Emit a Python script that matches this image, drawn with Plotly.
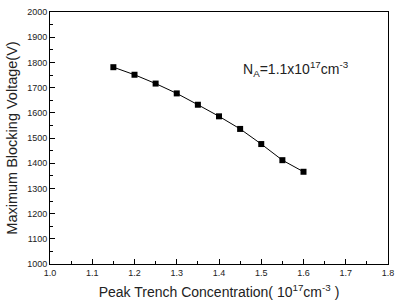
import plotly.graph_objects as go

conc = [1.15, 1.2, 1.25, 1.3, 1.35, 1.4, 1.45, 1.5, 1.55, 1.6]
voltage = [1781, 1751, 1716, 1677, 1632, 1586, 1536, 1476, 1412, 1366]

x_ticks = [1.0, 1.1, 1.2, 1.3, 1.4, 1.5, 1.6, 1.7, 1.8]
y_ticks = list(range(1000, 2001, 100))

fig = go.Figure()
fig.add_trace(go.Scatter(
    x=conc, y=voltage, mode="lines+markers",
    line=dict(color="black", width=1),
    marker=dict(symbol="square", size=6, color="black"),
    showlegend=False,
))

font = dict(family="Liberation Sans, Arial, sans-serif", color="#222")
axis_common = dict(
    showgrid=False, zeroline=False, showline=True, linecolor="black", linewidth=1,
    mirror=True, ticks="inside", ticklen=5, tickcolor="black", tickwidth=1,
    tickfont=dict(size=9, **font),
)
fig.update_xaxes(range=[1.0, 1.8], tickvals=x_ticks,
                 ticktext=[f"{v:.1f}" for v in x_ticks],
                 minor=dict(ticks="inside", ticklen=3, dtick=0.05, tick0=1.0, tickcolor="black"),
                 title=dict(text="Peak Trench Concentration( 10<sup>17</sup>cm<sup>-3</sup> )",
                            font=dict(size=14, **font), standoff=10),
                 **axis_common)
fig.update_yaxes(range=[1000, 2000], tickvals=y_ticks,
                 minor=dict(ticks="inside", ticklen=3, dtick=50, tick0=1000, tickcolor="black"),
                 title=dict(text="Maximum Blocking Voltage(V)", font=dict(size=14.5, **font), standoff=6),
                 **axis_common)

fig.add_annotation(x=1.453, y=1775, xref="x", yref="y",
                   text="N<sub>A</sub>=1.1x10<sup>17</sup>cm<sup>-3</sup>",
                   showarrow=False, xanchor="left", yanchor="middle",
                   font=dict(size=14, **font))

fig.update_layout(width=401, height=305, margin=dict(l=50, r=7, t=9, b=39),
                  plot_bgcolor="white", paper_bgcolor="white")
fig.write_html("out.html")
